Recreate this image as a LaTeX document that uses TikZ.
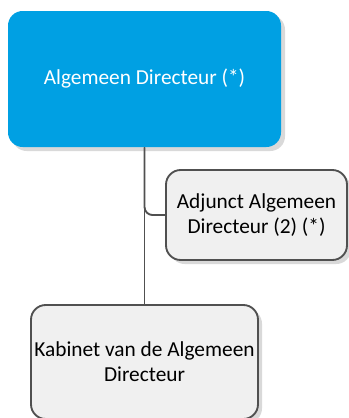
\documentclass[tikz,border=0pt]{standalone}
\usepackage{fontspec}
\setmainfont{Carlito}
\usetikzlibrary{shadows}
\definecolor{dirblue}{RGB}{0,160,227}
\definecolor{boxgray}{RGB}{240,240,240}
\definecolor{linegray}{RGB}{80,80,80}

\begin{document}
\begin{tikzpicture}[
    x=0.75pt, y=-0.75pt,
    unit/.style={rectangle, rounded corners=11pt, align=center, inner sep=0pt,
        font=\fontsize{16}{19}\selectfont,
        drop shadow={shadow xshift=3pt, shadow yshift=-3pt, fill=black!15, opacity=1}},
    head/.style={unit, fill=dirblue, text=white, minimum width=204.75pt, minimum height=102pt},
    sub/.style={unit, fill=boxgray, draw=linegray, line width=1.4pt},
    link/.style={draw=linegray, line width=1.4pt}
]
\useasboundingbox (0,0) rectangle (349,418);

% Director
\node[head] (dir) at (144.5,79) {Algemeen Directeur (*)};

% Deputy
\node[sub, minimum width=135.75pt, minimum height=67.5pt] (adj) at (256.5,215)
    {Adjunct Algemeen\\Directeur (2) (*)};

% Cabinet
\node[sub, minimum width=170.25pt, minimum height=85.5pt] (kab) at (144.5,362)
    {Kabinet van de Algemeen\\Directeur};

% Connections
\draw[link] (dir.south) -- (kab.north);
\draw[link, rounded corners=6pt] (dir.south) |- (adj.west);
\end{tikzpicture}
\end{document}
